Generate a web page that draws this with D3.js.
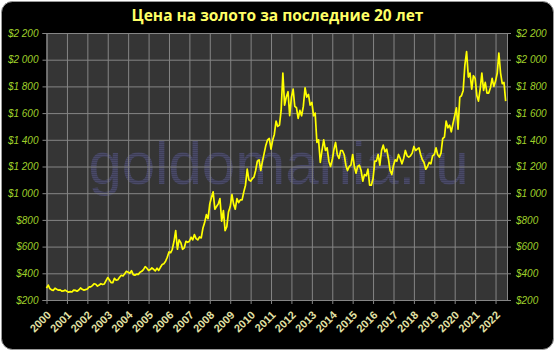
<!DOCTYPE html>
<html>
<head>
<meta charset="utf-8">
<script src="https://cdn.jsdelivr.net/npm/d3@7"></script>
<style>
  body { margin: 0; background: #fff; }
</style>
</head>
<body>
<div id="chart"></div>
<script>
// chart title and watermark
const title = "Цена на золото за последние 20 лет";
const watermark = "goldomania.ru";

// first month of the series, one value per month (USD per ounce)
const firstMonth = "2000-01";
const lastDate = "2022-07-25";
const prices = [
  289, 312, 286, 276, 272, 288, 280, 274, 276, 266, 268, 274,        // 2000
  265, 258, 263, 260, 274, 272, 266, 275, 290, 280, 274, 278,        // 2001
  282, 298, 298, 308, 322, 318, 304, 312, 322, 316, 320, 345,        // 2002
  368, 350, 330, 330, 362, 348, 352, 370, 385, 380, 396, 415,        // 2003
  408, 400, 420, 390, 386, 394, 392, 408, 415, 428, 450, 438,        // 2004
  422, 428, 440, 430, 418, 438, 422, 445, 466, 472, 490, 520,        // 2005
  560, 555, 580, 640, 720, 580, 650, 630, 580, 590, 640, 632,        // 2006
  640, 670, 650, 690, 660, 650, 672, 665, 740, 780, 840, 810,        // 2007
  920, 970, 1010, 880, 900, 920, 960, 790, 870, 720, 750, 860,       // 2008
  900, 990, 920, 880, 960, 930, 950, 950, 1010, 1060, 1180, 1100,    // 2009
  1090, 1110, 1120, 1170, 1240, 1250, 1170, 1240, 1300, 1360, 1400, 1410, // 2010
  1330, 1400, 1440, 1540, 1500, 1510, 1620, 1900, 1660, 1720, 1760, 1580, // 2011
  1720, 1780, 1650, 1640, 1560, 1620, 1580, 1650, 1790, 1720, 1740, 1660, // 2012
  1680, 1580, 1600, 1380, 1400, 1230, 1320, 1400, 1320, 1340, 1240, 1200, // 2013
  1250, 1330, 1380, 1290, 1260, 1320, 1320, 1290, 1210, 1170, 1200, 1210, // 2014
  1290, 1200, 1150, 1200, 1210, 1170, 1090, 1140, 1130, 1180, 1060, 1060, // 2015
  1110, 1240, 1240, 1290, 1210, 1320, 1360, 1310, 1330, 1260, 1170, 1140, // 2016
  1210, 1250, 1240, 1290, 1260, 1220, 1260, 1320, 1280, 1270, 1280, 1300, // 2017
  1350, 1320, 1330, 1340, 1290, 1250, 1230, 1180, 1200, 1230, 1220, 1280, // 2018
  1290, 1340, 1290, 1270, 1300, 1410, 1420, 1540, 1490, 1510, 1460, 1520, // 2019
  1580, 1640, 1480, 1720, 1730, 1770, 1960, 2060, 1870, 1900, 1780, 1880, // 2020
  1860, 1730, 1690, 1780, 1900, 1770, 1830, 1750, 1750, 1790, 1860, 1800, // 2021
  1840, 1900, 2050, 1900, 1820, 1830, 1690                                // 2022
];

// axis ticks
const yearTicks = d3.range(2000, 2023);
const priceTicks = [200, 400, 600, 800, 1000, 1200, 1400, 1600, 1800, 2000, 2200];

const W = 555, H = 351;
const margin = {top: 33, right: 48, bottom: 51, left: 46.5};
const innerW = W - margin.left - margin.right,
      innerH = H - margin.top - margin.bottom;

const parseMonth = d3.timeParse("%Y-%m");
const start = parseMonth(firstMonth);
const data = prices.map((p, i) => ({date: d3.timeMonth.offset(start, i), value: p}));

const svg = d3.select("#chart")
  .append("svg")
  .attr("width", W)
  .attr("height", H);

// black rounded frame
svg.append("rect")
  .attr("x", 1.5).attr("y", 1.5)
  .attr("width", W - 3).attr("height", H - 3)
  .attr("rx", 11)
  .attr("fill", "#000")
  .attr("stroke", "#9a9a9a")
  .attr("stroke-width", 1);

svg.append("text")
  .attr("x", W / 2)
  .attr("y", 21)
  .attr("text-anchor", "middle")
  .style("font-family", "'Open Sans', sans-serif")
  .style("font-weight", "bold")
  .style("font-size", "15.5px")
  .attr("fill", "#ffff66")
  .text(title);

const g = svg.append("g")
  .attr("transform", `translate(${margin.left}, ${margin.top})`);

const x = d3.scaleTime()
  .domain([start, new Date(lastDate)])
  .range([0, innerW]);

const y = d3.scaleLinear()
  .domain([200, 2200])
  .range([innerH, 0]);

g.append("rect")
  .attr("width", innerW)
  .attr("height", innerH)
  .attr("fill", "#353535");

// watermark (dotted look)
const defs = svg.append("defs");
const pat = defs.append("pattern")
  .attr("id", "dots")
  .attr("width", 2).attr("height", 2)
  .attr("patternUnits", "userSpaceOnUse");
pat.append("rect").attr("width", 2).attr("height", 2).attr("fill", "#3e3e56");
pat.append("rect").attr("width", 1).attr("height", 1).attr("fill", "#56567a");

g.append("text")
  .attr("x", 232)
  .attr("y", 151)
  .attr("text-anchor", "middle")
  .style("font-family", "'Liberation Sans', Arial, sans-serif")
  .style("font-size", "60px")
  .attr("fill", "url(#dots)")
  .text(watermark);

const yearDates = yearTicks.map(yr => new Date(yr, 0, 1));

// vertical grid
g.append("g")
  .attr("transform", `translate(0, ${innerH})`)
  .call(d3.axisBottom(x).tickValues(yearDates).tickSize(-innerH).tickSizeOuter(0).tickFormat(""))
  .call(a => a.select(".domain").remove())
  .call(a => a.selectAll("line").attr("stroke", "#858585"));

// horizontal grid
g.append("g")
  .call(d3.axisLeft(y).tickValues(priceTicks).tickSize(-innerW).tickFormat(""))
  .call(a => a.select(".domain").remove())
  .call(a => a.selectAll("line").attr("stroke", "#858585"));

const fmt = v => "$" + d3.format(",")(v).replace(",", " ");

// left axis
g.append("g")
  .call(d3.axisLeft(y).tickValues(priceTicks).tickSize(4).tickPadding(4).tickFormat(fmt))
  .call(a => a.select(".domain").attr("stroke", "#858585"))
  .call(a => a.selectAll("line").attr("stroke", "#858585"))
  .call(a => a.selectAll("text")
    .attr("fill", "#9fcf2a")
    .style("font-family", "'Liberation Sans', sans-serif")
    .style("font-style", "italic")
    .style("font-size", "10px"));

// right axis
g.append("g")
  .attr("transform", `translate(${innerW}, 0)`)
  .call(d3.axisRight(y).tickValues(priceTicks).tickSize(4).tickPadding(5).tickFormat(fmt))
  .call(a => a.select(".domain").attr("stroke", "#858585"))
  .call(a => a.selectAll("line").attr("stroke", "#858585"))
  .call(a => a.selectAll("text")
    .attr("fill", "#9fcf2a")
    .style("font-family", "'Liberation Sans', sans-serif")
    .style("font-style", "italic")
    .style("font-size", "10px"));

// bottom axis
g.append("g")
  .attr("transform", `translate(0, ${innerH})`)
  .call(d3.axisBottom(x).tickValues(yearDates).tickSize(4).tickSizeOuter(0).tickFormat(d3.timeFormat("%Y")))
  .call(a => a.select(".domain").attr("stroke", "#858585"))
  .call(a => a.selectAll("line").attr("stroke", "#858585"))
  .call(a => a.selectAll("text")
    .attr("fill", "#e2e0a4")
    .style("font-family", "'Liberation Sans', sans-serif")
    .style("font-weight", "bold")
    .style("font-size", "11px")
    .attr("y", 0)
    .attr("dy", "0.35em")
    .attr("text-anchor", "end")
    .attr("transform", "translate(2,13) rotate(-45)"));

// price line
const line = d3.line()
  .x(d => x(d.date))
  .y(d => y(d.value));

g.append("path")
  .datum(data)
  .attr("fill", "none")
  .attr("stroke", "#ffff00")
  .attr("stroke-width", 1.7)
  .attr("stroke-linejoin", "round")
  .attr("d", line);
</script>
</body>
</html>
